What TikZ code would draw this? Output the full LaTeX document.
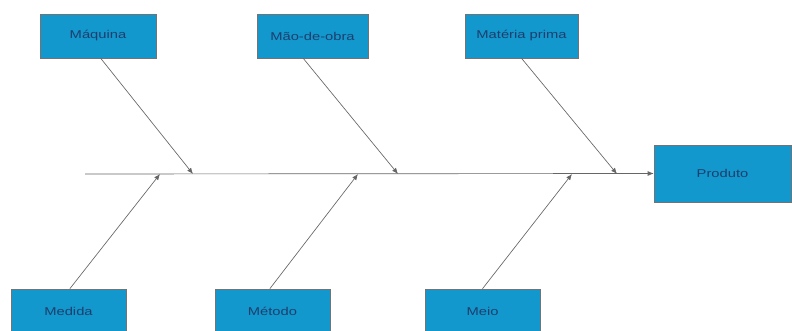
\documentclass[tikz,border=0pt]{standalone}
\usepackage{fontspec}
\setmainfont{Liberation Sans}
\newfontfamily\boxfont[FakeStretch=1.3]{Liberation Sans}
\definecolor{fishblue}{RGB}{18,152,204}
\definecolor{fishtext}{RGB}{30,62,110}
\usepackage{tikz}
\usetikzlibrary{arrows.meta,positioning}

\begin{document}
\begin{tikzpicture}[x=0.75pt, y=0.75pt, font=\boxfont\fontsize{8.5}{10}\selectfont,
  box/.style={rectangle, draw=black!55, fill=fishblue, text=fishtext, minimum width=115*0.75pt, minimum height=44*0.75pt, inner sep=0pt},
  bone/.style={draw=black!60, line width=0.5pt, -{Latex[length=1.6mm,width=1.3mm]}}]
\useasboundingbox (0,0) rectangle (792,331);
% causes above the spine
\node[box, minimum width=116*0.75pt] (maquina) at (98,295) {Máquina};
\node[box, minimum width=111*0.75pt] (maodeobra) at (312.5,295) {Mão-de-obra};
\node[box, minimum width=113*0.75pt] (materia) at (521.5,295) {Matéria prima};
% causes below the spine
\node[box] (medida) at (68.5,20) {Medida};
\node[box] (metodo) at (272.5,20) {Método};
\node[box] (meio) at (482.5,20) {Meio};
% effect
\node[box, minimum width=137*0.75pt, minimum height=57*0.75pt] (produto) at (722.5,157.5) {Produto};
% spine
\coordinate (tail) at (85,157);
\coordinate (tmaq) at (193,157);
\coordinate (tmao) at (398,157);
\coordinate (tmat) at (617,157);
\coordinate (tmed) at (160,157);
\coordinate (tmet) at (358,157);
\coordinate (tmei) at (572,157);
\draw[bone] (tail) -- (produto.west);
\draw[bone] ([xshift=2pt]maquina.south) -- (tmaq);
\draw[bone] ([xshift=-7pt]maodeobra.south) -- (tmao);
\draw[bone] (materia.south) -- (tmat);
\draw[bone] ([xshift=1pt]medida.north) -- (tmed);
\draw[bone] ([xshift=-2pt]metodo.north) -- (tmet);
\draw[bone] (meio.north) -- (tmei);
\end{tikzpicture}
\end{document}
